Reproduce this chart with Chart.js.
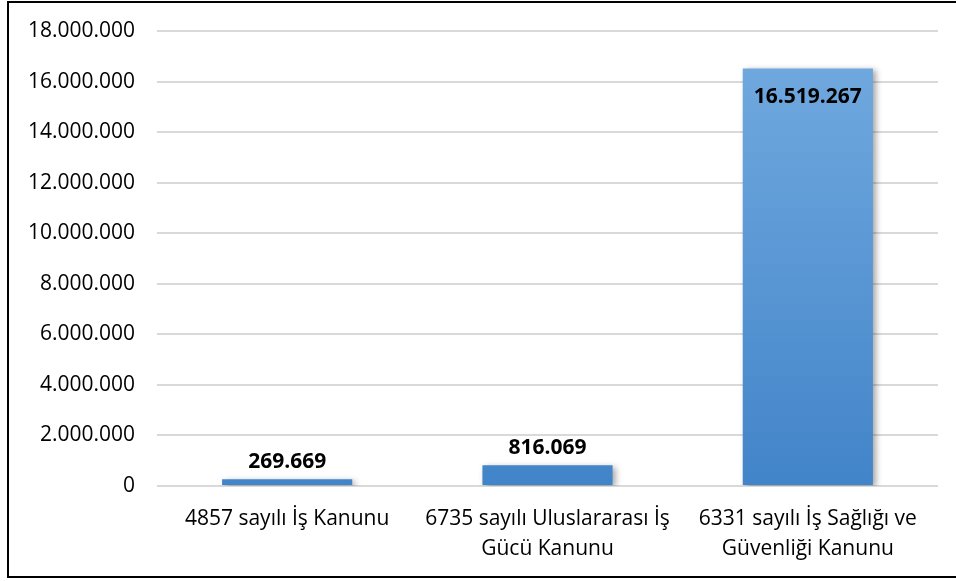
<!DOCTYPE html>
<html>
<head>
<meta charset="utf-8">
<script src="https://cdn.jsdelivr.net/npm/chart.js@4.4.1/dist/chart.umd.min.js"></script>
<style>
html,body{margin:0;padding:0;background:#fff;overflow:hidden;}
#wrap{position:relative;width:956px;height:581px;}
#frame{position:absolute;left:7px;top:1px;width:1000px;height:573px;border:2px solid #000;border-right:none;box-sizing:content-box;}
canvas{position:absolute;left:0;top:0;}
</style>
</head>
<body>
<div id="wrap">
<div id="frame"></div>
<canvas id="lawChart" width="956" height="581"></canvas>
</div>
<script>
// categories and values
const categories = [
  ["4857 sayılı İş Kanunu"],
  ["6735 sayılı Uluslararası İş", "Gücü Kanunu"],
  ["6331 sayılı İş Sağlığı ve", "Güvenliği Kanunu"]
];
const values = [269669, 816069, 16519267];
const yTicks = [0, 2000000, 4000000, 6000000, 8000000, 10000000, 12000000, 14000000, 16000000, 18000000];
const labelInside = [false, false, true];

function trNum(v){
  return String(Math.round(v)).replace(/\B(?=(\d{3})+(?!\d))/g, ".");
}

const FONT = "'Open Sans', 'Noto Sans', sans-serif";

// gradient + shadow for each bar
const barStyle = {
  id: "barStyle",
  beforeDatasetDraw(chart){
    const ctx = chart.ctx;
    const meta = chart.getDatasetMeta(0);
    const base = chart.scales.y.getPixelForValue(0);
    meta.data.forEach(function(bar){
      const g = ctx.createLinearGradient(0, bar.y, 0, base);
      g.addColorStop(0, "#6fa8de");
      g.addColorStop(1, "#4284c9");
      bar.options.backgroundColor = g;
    });
    ctx.save();
    ctx.shadowColor = "rgba(0,0,0,0.35)";
    ctx.shadowBlur = 6;
    ctx.shadowOffsetX = 3;
    ctx.shadowOffsetY = 2;
  },
  afterDatasetDraw(chart){
    chart.ctx.restore();
  }
};

// value labels
const valueLabels = {
  id: "valueLabels",
  afterDatasetsDraw(chart){
    const ctx = chart.ctx;
    const meta = chart.getDatasetMeta(0);
    ctx.save();
    ctx.font = "bold 21px " + FONT;
    ctx.fillStyle = "#000";
    ctx.textAlign = "center";
    ctx.textBaseline = "middle";
    meta.data.forEach(function(bar, i){
      const y = labelInside[i] ? bar.y + 29 : bar.y - 17;
      ctx.fillText(trNum(values[i]), bar.x, y);
    });
    ctx.restore();
  }
};

const lawChart = new Chart(
document.getElementById("lawChart"),
{
type:"bar",

data:{
labels:categories,
datasets:[{
data:values,
backgroundColor:"#5b9bd5",
borderWidth:0,
barPercentage:0.5,
categoryPercentage:1
}]
},

options:{
responsive:false,
animation:false,
layout:{
padding:{left:10, right:18, top:31, bottom:0}
},
plugins:{
legend:{display:false},
tooltip:{enabled:false}
},
scales:{
x:{
grid:{display:false},
border:{display:false},
ticks:{
color:"#000",
font:{family:FONT, size:21, lineHeight:1.43},
padding:10,
maxRotation:0,
autoSkip:false
},
afterFit(s){ s.height = 95; s.paddingLeft = 0; s.paddingRight = 0; }
},
y:{
min:0,
max:18000000,
afterBuildTicks(s){ s.ticks = yTicks.map(function(v){ return {value:v}; }); },
grid:{color:"#d9d9d9", lineWidth:2, drawTicks:false},
border:{display:false},
ticks:{
color:"#000",
font:{family:FONT, size:21},
padding:22,
callback:function(v){ return trNum(v); }
},
afterFit(s){ s.width = 147; s.paddingTop = 0; s.paddingBottom = 0; }
}
}
},
plugins:[barStyle, valueLabels]
}
);
</script>
</body>
</html>
